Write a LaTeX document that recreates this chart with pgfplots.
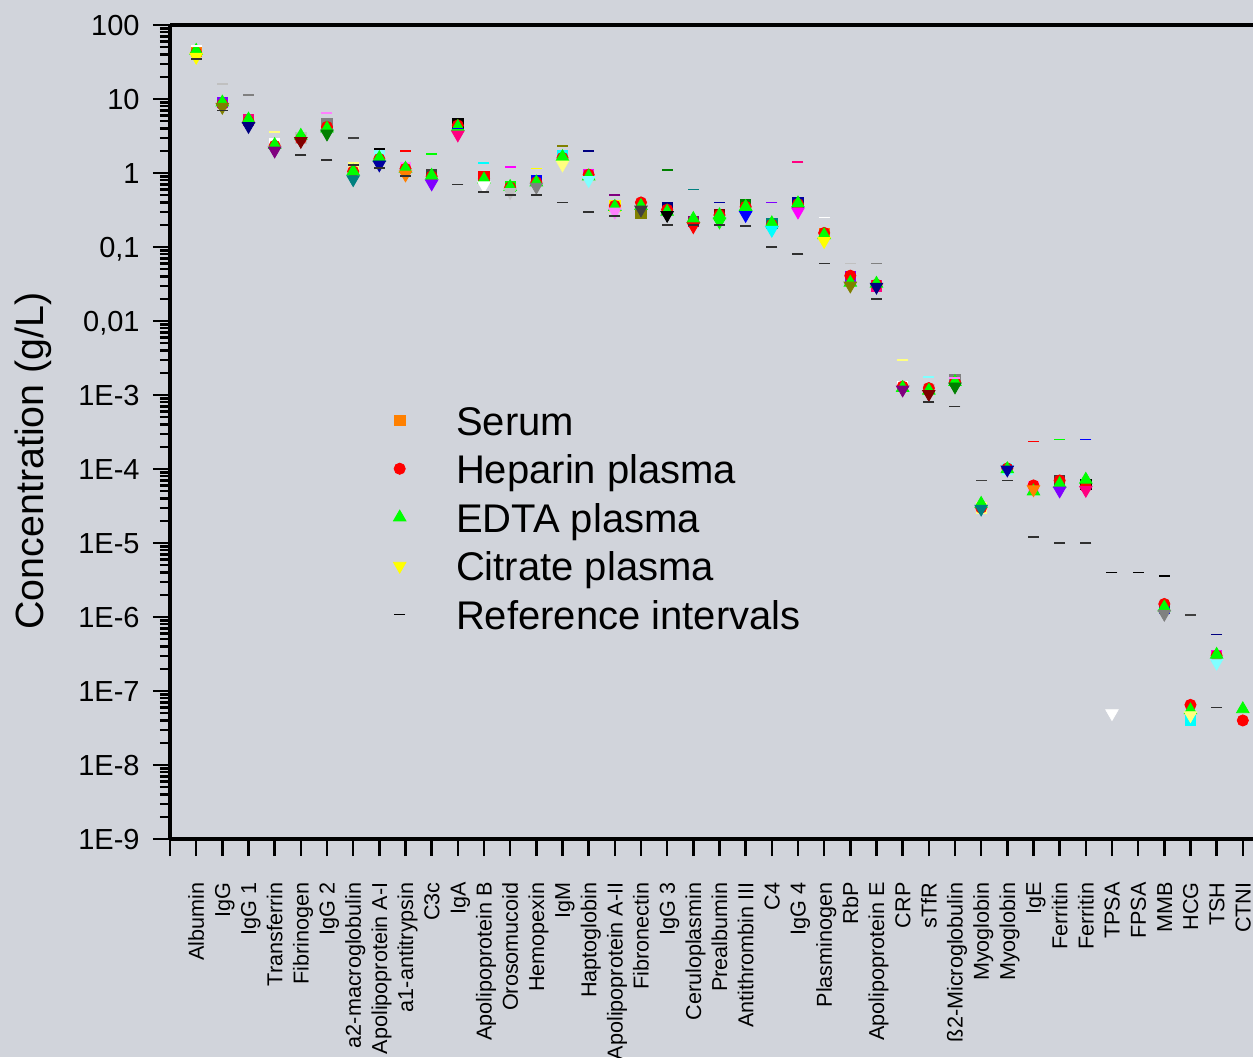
\documentclass[border=0pt]{standalone}
\usepackage{fontspec}
\setmainfont{Liberation Sans}
\usepackage{pgfplots}
\usepackage{pgfplotstable}
\pgfplotsset{compat=1.18}
\definecolor{bg}{RGB}{209,212,219}
\definecolor{odark}{RGB}{48,48,48}
\definecolor{c0}{RGB}{0,0,0}
\definecolor{c1}{RGB}{255,0,0}
\definecolor{c2}{RGB}{0,255,0}
\definecolor{c3}{RGB}{0,0,255}
\definecolor{c4}{RGB}{0,255,255}
\definecolor{c5}{RGB}{255,0,255}
\definecolor{c6}{RGB}{255,255,0}
\definecolor{c7}{RGB}{128,128,0}
\definecolor{c8}{RGB}{0,0,128}
\definecolor{c9}{RGB}{128,0,128}
\definecolor{c10}{RGB}{128,0,0}
\definecolor{c11}{RGB}{0,128,0}
\definecolor{c12}{RGB}{0,128,128}
\definecolor{c13}{RGB}{0,0,160}
\definecolor{c14}{RGB}{255,128,0}
\definecolor{c15}{RGB}{128,0,255}
\definecolor{c16}{RGB}{255,0,128}
\definecolor{c17}{RGB}{255,255,255}
\definecolor{c18}{RGB}{192,192,192}
\definecolor{c19}{RGB}{128,128,128}
\definecolor{c20}{RGB}{255,255,128}
\definecolor{c21}{RGB}{128,255,255}
\definecolor{c22}{RGB}{255,128,255}
\definecolor{c23}{RGB}{64,64,64}
\newcommand\yfont{\fontsize{14.5}{17}\selectfont}
\newcommand\xfont{\fontsize{10.8}{13}\selectfont}
\newcommand\legfont{\fontsize{20}{23}\selectfont}
\newcommand\labfont{\fontsize{19.7}{23}\selectfont}

\pgfplotsset{pts/.style={scatter, only marks, point meta=explicit symbolic,
  scatter/classes={0={c0},1={c1},2={c2},3={c3},4={c4},5={c5},6={c6},7={c7},8={c8},9={c9},10={c10},11={c11},
   12={c12},13={c13},14={c14},15={c15},16={c16},17={c17},18={c18},19={c19},20={c20},21={c21},22={c22},23={c23}},
   forget plot},
  legimg/.style={legend image code/.code={\draw[##1] plot coordinates {(0pt,3.6pt)}; \path (-5pt,0pt) (28pt,0pt);}}}

% x: category index; se serum, hp heparin, ed EDTA, ci citrate, rh/rl reference interval
% sc, dc, hc: colour index of square, down-triangle and upper reference dash
\pgfplotstableread{
x se hp ed ci rh rl sc dc hc
0 44 42 45 37 52 35 14 6 17
1 9 8.5 9 7.8 16 7 15 7 18
2 5.2 5 5.3 4.3 11.3 nan 16 8 19
3 2.5 2.33 2.4 2.0 3.55 nan 17 9 20
4 3.0 2.9 3.2 2.7 nan 1.77 18 10 21
5 4.6 4.2 4.0 3.4 6.4 1.5 19 11 22
6 1.2 1.05 1.05 0.82 3.0 1.29 20 12 23
7 1.7 1.55 1.6 1.3 2.1 1.16 21 13 0
8 1.2 1.14 1.15 0.95 2.0 0.9 22 14 1
9 0.95 0.9 0.92 0.72 1.8 nan 23 15 2
10 4.7 4.4 4.2 3.3 4.0 0.7 0 16 3
11 0.9 0.85 0.82 0.68 1.35 0.55 1 17 4
12 0.66 0.64 0.65 0.55 1.2 0.5 2 18 5
13 0.8 0.75 0.75 0.65 1.15 0.5 3 19 6
14 1.7 1.6 1.65 1.3 2.3 0.4 4 20 7
15 0.95 0.95 0.9 0.8 2.0 0.3 5 21 8
16 0.36 0.36 0.35 0.30 0.5 0.26 6 22 9
17 0.29 0.40 0.36 0.32 nan nan 7 23 10
18 0.34 0.32 0.3 0.27 1.1 0.2 8 0 11
19 0.22 0.22 0.24 0.19 0.6 0.2 9 1 12
20 0.27 0.27 0.27 0.22 0.4 0.2 10 2 13
21 0.37 0.35 0.35 0.27 nan 0.19 11 3 14
22 0.21 0.2 0.21 0.17 0.4 0.1 12 4 15
23 0.4 0.38 0.39 0.30 1.4 0.08 13 5 16
24 0.15 0.155 0.145 0.12 0.25 0.06 14 6 17
25 0.04 0.041 0.033 0.03 0.06 nan 15 7 18
26 0.03 0.031 0.032 0.029 0.06 0.02 16 8 19
27 0.0013 0.0013 0.00125 0.00118 0.003 nan 17 9 20
28 0.0012 0.00124 0.00115 0.00103 0.00176 0.00081 18 10 21
29 0.0016 0.0015 0.0015 0.0013 0.0017 0.0007 19 11 22
30 3e-5 3e-5 3.4e-5 2.9e-5 7e-5 nan 20 12 23
31 1e-4 1.02e-4 1e-4 0.98e-4 nan 7e-5 21 13 0
32 5.8e-5 6e-5 5e-5 5.3e-5 2.35e-4 1.2e-5 22 14 1
33 7e-5 7e-5 6.3e-5 5.1e-5 2.5e-4 1e-5 23 15 2
34 6.2e-5 5.8e-5 7.2e-5 5.2e-5 2.5e-4 1e-5 0 16 3
35 nan nan nan 5e-8 4e-6 nan 1 17 0
36 nan nan nan nan 4e-6 nan 2 18 0
37 1.3e-6 1.5e-6 1.35e-6 1.1e-6 3.6e-6 nan 3 19 0
38 4e-8 6.5e-8 5.5e-8 4.7e-8 1.06e-6 nan 4 20 23
39 3e-7 3e-7 3.1e-7 2.4e-7 5.8e-7 6e-8 5 21 8
40 nan 4e-8 5.7e-8 nan nan nan 6 22 9
}\data

\begin{document}
\begin{tikzpicture}
\fill[bg] (0,0) rectangle (626.5pt,528.5pt);
\begin{axis}[
  scale only axis, width=541.5pt, height=407pt,
  at={(85pt,109pt)}, anchor=south west,
  ymode=log, ymin=1e-9, ymax=100, xmin=-1, xmax=40.39,
  axis y line*=left,
  tick pos=left, tick align=outside,
  major tick length=8.5pt, minor tick length=5pt,
  tick style={black, line width=1.2pt},
  axis line style={black, line width=1.65pt},
  xtick={-1,0,...,40},
  xticklabels={{},Albumin,IgG,IgG 1,Transferrin,Fibrinogen,IgG 2,a2-macroglobulin,Apolipoprotein A-I,a1-antitrypsin,C3c,IgA,Apolipoprotein B,Orosomucoid,Hemopexin,IgM,Haptoglobin,Apolipoprotein A-II,Fibronectin,IgG 3,Ceruloplasmin,Prealbumin,Antithrombin III,C4,IgG 4,Plasminogen,RbP,Apolipoprotein E,CRP,sTfR,ß2-Microglobulin,Myoglobin,Myoglobin,IgE,Ferritin,Ferritin,TPSA,FPSA,MMB,HCG,TSH,CTNI},
  ytick={1e-9,1e-8,1e-7,1e-6,1e-5,1e-4,1e-3,1e-2,1e-1,1,10,100},
  yticklabels={1E-9,1E-8,1E-7,1E-6,1E-5,1E-4,1E-3,{0,01},{0,1},1,10,100},
  minor ytick={2e-9,3e-9,4e-9,5e-9,6e-9,7e-9,8e-9,9e-9,
    2e-8,3e-8,4e-8,5e-8,6e-8,7e-8,8e-8,9e-8,
    2e-7,3e-7,4e-7,5e-7,6e-7,7e-7,8e-7,9e-7,
    2e-6,3e-6,4e-6,5e-6,6e-6,7e-6,8e-6,9e-6,
    2e-5,3e-5,4e-5,5e-5,6e-5,7e-5,8e-5,9e-5,
    2e-4,3e-4,4e-4,5e-4,6e-4,7e-4,8e-4,9e-4,
    2e-3,3e-3,4e-3,5e-3,6e-3,7e-3,8e-3,9e-3,
    2e-2,3e-2,4e-2,5e-2,6e-2,7e-2,8e-2,9e-2,
    0.2,0.3,0.4,0.5,0.6,0.7,0.8,0.9,2,3,4,5,6,7,8,9,20,30,40,50,60,70,80,90},
  xticklabel style={rotate=90, anchor=east, font=\xfont, inner sep=0pt, text height=7.7pt, text depth=0pt},
  yticklabel style={anchor=east, font=\yfont, inner sep=0pt, text height=10.4pt, text depth=0pt},
  xticklabel shift=13pt, yticklabel shift=6.5pt,
  clip=false,
  legend cell align=left,
  legend style={draw=none, fill=none, inner sep=0pt, outer sep=0pt,
    at={(axis description cs:0.2025,0.5356)}, anchor=north west,
    font=\legfont, row sep=0pt, column sep=0pt,
    nodes={inner sep=0pt, text height=16pt, text depth=8.3pt}},
]
\addplot[pts, mark=square*, mark size=2.6pt] table[x=x,y=se,meta=sc]{\data};
\addplot[only marks, c1, mark=*, mark size=2.8pt, forget plot] table[x=x,y=hp]{\data};
\addplot[only marks, c2, mark=triangle*, mark size=3.6pt, forget plot] table[x=x,y=ed]{\data};
\addplot[pts, mark=triangle*, mark size=3.6pt, mark options={rotate=180}] table[x=x,y=ci,meta=dc]{\data};
\addplot[pts, mark=-, mark size=2.75pt, mark options={line width=0.9pt}] table[x=x,y=rh,meta=hc]{\data};
\addplot[only marks, odark, mark=-, mark size=2.75pt, mark options={line width=0.9pt}, forget plot] table[x=x,y=rl]{\data};

\addlegendimage{mark=square*, mark size=2.6pt, c14, legimg}
\addlegendentry{Serum}
\addlegendimage{mark=*, mark size=2.8pt, c1, legimg}
\addlegendentry{Heparin plasma}
\addlegendimage{mark=triangle*, mark size=3.6pt, c2, legimg}
\addlegendentry{EDTA plasma}
\addlegendimage{mark=triangle*, mark size=3.6pt, mark options={rotate=180}, c6, legimg}
\addlegendentry{Citrate plasma}
\addlegendimage{mark=-, mark size=2.75pt, mark options={line width=0.6pt}, black, legimg}
\addlegendentry{Reference intervals}
\end{axis}
\node[rotate=90, anchor=base west, inner sep=0pt, font=\labfont] at (21.5pt,213.5pt) {Concentration (g/L)};
\pgfresetboundingbox
\useasboundingbox (0,0) rectangle (626.5pt,528.5pt);
\end{tikzpicture}
\end{document}
